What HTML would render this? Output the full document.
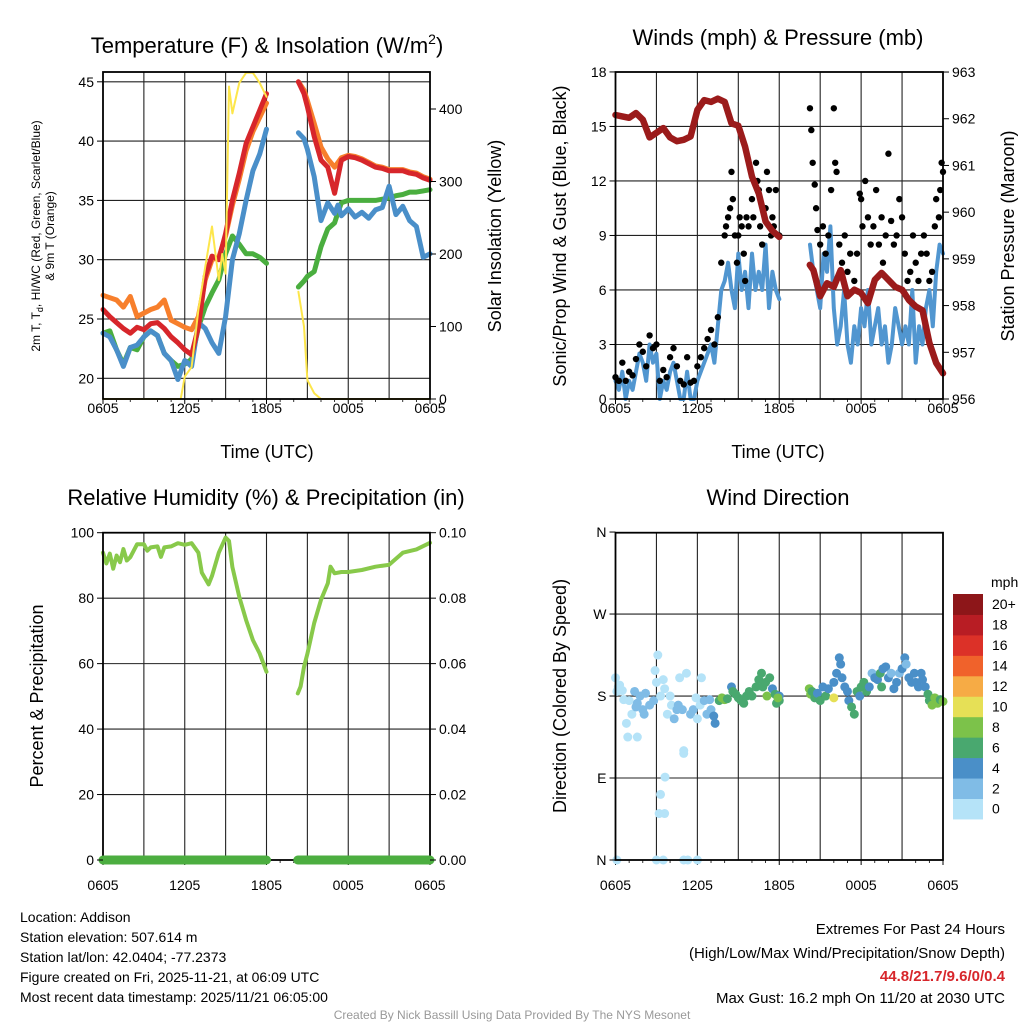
<!DOCTYPE html>
<html><head><meta charset="utf-8"><style>
html,body{margin:0;padding:0;background:#fff;}
svg{display:block;font-family:"Liberation Sans",sans-serif;}
</style></head><body>
<svg id="c" width="1024" height="1024" viewBox="0 0 1024 1024" xmlns="http://www.w3.org/2000/svg">
<rect width="1024" height="1024" fill="#fff"/>
<g id="g1"></g>
<g id="g2"></g>
<g id="g3"></g>
<g id="g4"></g>
<g font-size="22" text-anchor="middle" fill="#000">
<text x="267" y="53">Temperature (F) &amp; Insolation (W/m<tspan font-size="14" dy="-9">2</tspan><tspan dy="9">)</tspan></text>
<text x="778" y="45">Winds (mph) &amp; Pressure (mb)</text>
<text x="266" y="505">Relative Humidity (%) &amp; Precipitation (in)</text>
<text x="778" y="505">Wind Direction</text>
</g>
<g font-size="18" text-anchor="middle">
<text x="267" y="458">Time (UTC)</text>
<text x="778" y="458">Time (UTC)</text>
<text transform="translate(501,236) rotate(-90)">Solar Insolation (Yellow)</text>
<text transform="translate(566,236) rotate(-90)">Sonic/Prop Wind &amp; Gust (Blue, Black)</text>
<text transform="translate(1014,236) rotate(-90)">Station Pressure (Maroon)</text>
<text transform="translate(43,696) rotate(-90)">Percent &amp; Precipitation</text>
<text transform="translate(566,696) rotate(-90)">Direction (Colored By Speed)</text>
</g>
<g font-size="12" text-anchor="middle">
<text transform="translate(40,236) rotate(-90)">2m T, T<tspan font-size="9" dy="3">d</tspan><tspan dy="-3">, HI/WC (Red, Green, Scarlet/Blue)</tspan></text>
<text transform="translate(54,236) rotate(-90)">&amp; 9m T (Orange)</text>
</g>
<g font-size="14" fill="#000">
<text x="20" y="922">Location: Addison</text>
<text x="20" y="942">Station elevation: 507.614 m</text>
<text x="20" y="962">Station lat/lon: 42.0404; -77.2373</text>
<text x="20" y="982">Figure created on Fri, 2025-11-21, at 06:09 UTC</text>
<text x="20" y="1002">Most recent data timestamp: 2025/11/21 06:05:00</text>
</g>
<g font-size="15" text-anchor="end">
<text x="1005" y="934">Extremes For Past 24 Hours</text>
<text x="1005" y="958">(High/Low/Max Wind/Precipitation/Snow Depth)</text>
<text x="1005" y="981" fill="#d7262b" font-weight="bold">44.8/21.7/9.6/0/0.4</text>
<text x="1005" y="1003">Max Gust: 16.2 mph On 11/20 at 2030 UTC</text>
</g>
<text x="512" y="1019" font-size="12" fill="#999" text-anchor="middle">Created By Nick Bassill Using Data Provided By The NYS Mesonet</text>
</svg>
<script>
// ---- data ----
const xTickLabels = ["0605","1205","1805","0005","0605"];
const xTickHours = [0,6,12,18,24];
const tempTicks = [20,25,30,35,40,45];
const solarTicks = [0,100,200,300,400];
const windTicks = [0,3,6,9,12,15,18];
const presTicks = [956,957,958,959,960,961,962,963];
const rhTicks = [0,20,40,60,80,100];
const precipTicks = ["0.00","0.02","0.04","0.06","0.08","0.10"];
const dirTickLabels = ["N","E","S","W","N"];
const dirTickValues = [0,90,180,270,360];
const speedBinLabels = ["0","2","4","6","8","10","12","14","16","18","20+"];
const speedBinColors = ["#b5e3f8","#80bce6","#4a8fc8","#49a86f","#7cc24a","#e6e056","#f6ab45","#f0622b","#dc3128","#b81d24","#8d1619"];

const tSeg1 = [0,0.5,1,1.5,2,2.5,3,3.5,4,4.5,5,5.5,6,6.5,7,7.5,8,8.5,9,9.5,10,10.5,11,11.5,12];
const tSeg2 = [14.34,14.75,15,15.5,16,16.5,17,17.25,17.5,18,18.5,19,19.5,20,20.5,21,21.5,22,22.5,23,23.5,24];
const red1 = [25.8,25.2,24.7,24.2,23.8,24.3,24.1,24.6,24.7,24.2,23.5,23.0,22.4,22.0,24.3,28.6,30.3,30.0,32.2,35.0,37.3,39.8,41.2,42.6,44.0];
const orange1 = [27.0,26.8,26.6,26.0,26.9,25.2,25.5,25.8,26.0,26.6,24.9,24.6,24.3,24.1,25.2,28.3,30.0,30.2,32.0,34.6,36.8,39.2,40.8,42.0,43.2];
const blue1 = [23.8,23.5,22.4,21.0,22.6,22.8,23.5,24.0,23.6,22.1,21.5,19.9,21.5,21.0,24.7,24.2,23.0,22.1,25.2,30.0,32.2,35.0,37.5,38.9,41.0];
const green1 = [23.8,24.0,22.4,21.2,22.6,22.4,23.5,24.0,23.6,22.1,21.5,21.0,21.2,21.6,24.3,26.0,27.2,28.3,30.5,32.0,31.3,30.5,30.5,30.2,29.7];
const red2 = [45,44,42.9,40.4,38.4,37.8,35.6,37.0,38.4,38.7,38.6,38.4,38.1,37.8,37.7,37.5,37.5,37.5,37.3,37.2,36.9,36.7];
const orange2 = [45,44.3,43.4,41.5,39.5,38.5,37.8,38.2,38.6,38.8,38.7,38.5,38.2,37.9,37.8,37.6,37.6,37.6,37.4,37.3,37.0,36.8];
const blue2 = [40.7,40.2,39.3,37.0,33.3,34.8,33.9,34.6,33.7,34.3,33.6,34.0,33.5,34.2,34.4,36.2,33.8,34.5,33.3,32.8,30.2,30.5];
const green2 = [27.7,28.2,28.6,29.0,31.1,32.6,33.1,34.0,34.8,35.0,35.0,35.0,35.0,35.0,35.1,35.2,35.4,35.5,35.7,35.7,35.8,35.9];
const solarT1 = [0,5.7,6,6.5,7,7.5,8,8.5,8.75,9,9.25,9.5,10,10.5,11,11.5,12];
const solar1 = [0,0,31,44,123,182,238,164,200,173,431,394,436,450,450,436,417];
const solarT2 = [14.34,14.75,15,15.5,16,24];
const solar2 = [148,100,26,8,0,0];

const windT1 = [0,0.25,0.5,0.75,1,1.25,1.5,1.75,2,2.25,2.5,2.75,3,3.25,3.5,3.75,4,4.25,4.5,4.75,5,5.25,5.5,5.75,6,6.25,6.5,6.75,7,7.25,7.5,7.75,8,8.25,8.5,8.75,9,9.25,9.5,9.75,10,10.25,10.5,10.75,11,11.25,11.5,11.75,12];
const wind1 = [1,0.5,1.5,0,1,0.5,1.5,2.5,2,1,3,2,2.5,0,1,0.5,1.5,2,1,0,0,1.5,0,0,1,1.5,2,2.5,3,2,4,6,6.5,7.5,6,5,8,6,7,5,8,6,7,6,8.5,5,7,6,5.5];
const windT2 = [14.25,14.5,14.75,15,15.25,15.5,15.75,16,16.25,16.5,16.75,17,17.25,17.5,17.75,18,18.25,18.5,18.75,19,19.25,19.5,19.75,20,20.25,20.5,20.75,21,21.25,21.5,21.75,22,22.25,22.5,22.75,23,23.25,23.5,23.75,24];
const wind2 = [8.5,7,6,5,8,7,9.5,5,3,4,6,3,2,4,3,5,4,6,3,4,5,3,4,2,3,5,4,3,4,3,6,2,4,3,5,6,4,7,8.5,8];
const gustT = [0,0.25,0.5,0.75,1,1.25,1.5,1.75,2,2.25,2.5,2.75,3,3.25,3.5,3.75,4,4.25,4.5,4.75,5,5.25,5.5,5.75,6,6.25,6.5,6.75,7,7.25,7.5,7.75,
 8,8.1,8.25,8.4,8.5,8.6,8.75,8.9,9,9.1,9.25,9.4,9.5,9.6,9.75,10,10.1,10.3,10.4,10.5,10.6,10.75,11,11.1,11.25,11.4,11.5,11.6,11.75,12,
 14.25,14.35,14.45,14.6,14.7,14.8,15,15.2,15.4,15.6,15.8,16,16.1,16.2,16.4,16.6,16.8,17,17.2,17.5,17.7,17.9,18,18.1,18.3,18.5,18.7,18.9,19.1,19.3,19.5,19.6,19.8,20,20.2,20.4,20.6,20.8,21,21.2,21.4,21.6,21.8,22,22.2,22.4,22.6,22.8,23,23.2,23.4,23.5,23.7,23.8,23.9,24];
const gust = [1.2,1,2,1,1.5,1.3,2.2,3,2.6,1.8,3.5,2.8,3,1,1.6,1.2,2.3,2.8,1.8,1,0.8,2.3,0.9,1,1.8,2.3,2.8,3.3,3.8,3,4.5,7.5,
 9,9.5,10,10.5,12.5,11,9,7.5,9,10,9.5,8,6.5,10,9.5,11,10,13,12,11.5,9.5,8.5,10.5,12.5,11.5,9,10,9.5,11.5,9,
 16,14.8,13,11.8,10.5,9.3,8.5,9.5,8,9,11.5,16,13,12.5,8.5,7.5,9,7,8,6.5,8,11.3,11,9.5,12,10,8.5,9.5,11.5,8.5,10,7.5,9,13.5,9.8,8.5,9,11,10,8,6.5,7,9,7.5,6.5,8,9,8,6.5,7,9.5,11,10,11.5,13,12.5];
const presT1 = [0,0.5,1,1.5,2,2.5,3,3.5,4,4.5,5,5.5,6,6.5,7,7.5,8,8.5,9,9.5,10,10.5,11,11.5,12];
const pres1 = [962.08,962.05,962.02,962.12,961.98,961.6,961.7,961.8,961.6,961.52,961.55,961.62,962.19,962.4,962.36,962.43,962.36,961.9,961.85,961.4,960.76,960.4,959.8,959.6,959.47];
const presT2 = [14.24,14.5,15,15.5,16,16.5,17,17.5,18,18.5,19,19.5,20,20.5,21,21.5,22,22.5,23,23.5,24];
const pres2 = [958.87,958.76,958.2,958.48,958.4,958.76,958.2,958.34,958.27,958.05,958.55,958.7,958.55,958.4,958.34,958.12,957.98,957.9,957.2,956.77,956.55];

const rhT1 = [0,0.25,0.5,0.75,1,1.25,1.5,1.75,2,2.25,2.5,3,3.25,3.5,4,4.25,4.5,5,5.5,6,6.5,7,7.25,7.5,7.75,8,8.5,9,9.25,9.5,10,10.5,11,11.5,12];
const rh1 = [93.9,90.6,93.6,89,93,91,95,91.5,92.5,94.5,96.5,96.5,94.5,95.5,95.8,92.6,95.5,95.8,96.8,96.3,96.8,93.9,87.8,86,84.2,86.8,93.9,98.5,97.5,89.5,80.4,73.3,67.2,63.1,57.5];
const rhT2 = [14.3,14.5,14.75,15,15.5,16,16.5,16.7,17,17.5,18,19,20,21,22,23,24];
const rh2 = [50.9,53,59,63,72.4,79.5,84.5,89.6,87.6,88,88,88.6,89.6,90.2,93.9,94.9,96.9];
const precipT1 = [0,12];
const precip1 = [0,0];
const precipT2 = [14.3,24];
const precip2 = [0,0];

const dirT = [0,0.1,0.2,0.3,0.5,0.6,0.8,1,1.2,1.4,1.5,1.6,1.8,2,2.1,2.2,2.5,2.8,2.9,3,3.1,3.3,3.5,3.6,3.8,4,4.1,4.3,4.5,4.6,4.7,4.9,5,5.2,5.5,5.7,5.9,6,6.2,6.3,6.5,6.7,6.9,7,7.2,7.3,
 0.9,1.6,3.63,3.3,3.2,3.6,5,0.1,3,3.5,5,5.3,6,
 7.6,7.8,8,8.2,8.5,8.6,8.8,9,9.2,9.4,9.6,9.8,10,10.3,10.5,10.7,10.8,11,11.1,11.3,11.5,11.7,11.8,12,12,11.9,
 14.2,14.3,14.4,14.6,14.8,15,15.2,15.4,15.6,16,16,16.2,16.4,16.5,16.6,16.8,17,17.1,17.3,17.5,17.7,17.9,18,18.2,18.4,18.6,18.8,19,19.2,19.4,19.5,19.6,19.8,20,20.2,20.4,20.6,20.8,21,21.2,21.3,21.5,21.7,21.9,22,22.2,22.4,22.5,22.7,22.9,23,23.2,23.4,23.6,23.8,24];
const dirV = [200,185,190,192,186,176,150,175,160,185,168,172,180,165,160,183,170,175,208,195,225,180,198,188,160,180,170,155,165,170,200,165,120,205,160,165,178,155,170,200,175,160,176,165,158,150,
 135,135,91,72,51,51,117,0,0,0,0,0,0,
 175,178,176,177,190,185,182,178,175,172,180,185,180,190,198,205,190,195,180,200,188,182,172,175,180,178,
 188,182,185,178,183,175,190,180,188,178,195,205,222,215,200,190,185,175,168,160,185,180,190,195,185,190,205,200,198,205,190,210,212,200,205,188,195,205,210,222,215,200,195,205,195,190,205,198,190,182,175,170,178,172,176,174];
const dirSpd = [1,1,1,1.5,1,1,1,1,1,2.5,2.5,2.5,2.5,2.5,2.5,2.5,2.5,3,1,1,1,1,1,1,1,1,1,2.5,2.5,2.5,1,2.5,1,1,2.5,2.5,1,1,1,1,2.5,2.5,3,3.5,4.5,4.5,
 1,1,1,1,1,1,1,1,1,1,1,1,1,
 7,8.5,8.5,7,5,7,7,7,7,7,7,7,7,7,7,7,7,7,8.5,7,5,7,7,7,5,8.5,
 8.5,8.5,7,7,5,7,5,7,5,10.5,5,5,5,5,5,5,5,5,7,7,7,5,7,7,7,5,3,5,5,7,7,5,5,5,3,5,5,3,5,5,3,5,5,5,5,5,5,5,5,7,7,8.5,8.5,8.5,7,8.5];

// ---- helpers ----
const NS = "http://www.w3.org/2000/svg";
function mk(parent, tag, attrs){ const e=document.createElementNS(NS,tag); for(const k in attrs) e.setAttribute(k,attrs[k]); parent.appendChild(e); return e; }
function pathD(ts, vs, fx, fy){ return ts.map((t,i)=>(i?"L":"M")+fx(t).toFixed(1)+","+fy(vs[i]).toFixed(1)).join(""); }

// axis functions
const P1 = {x0:103, x1:430, y0:72, y1:399, lab:14};
const P2 = {x0:615.5, x1:943, y0:72, y1:399, lab:14};
const P3 = {x0:103, x1:430, y0:532.7, y1:860, lab:30};
const P4 = {x0:615.5, x1:943, y0:532.7, y1:860, lab:30};
const hx = (P)=> (h)=> P.x0 + h*(P.x1-P.x0)/24;
const x1f=hx(P1), x2f=hx(P2), x3f=hx(P3), x4f=hx(P4);
const yT = (T)=> 378.3 - (T-20)*11.86;
const yS = (W)=> 399 - W*0.725;
const yW = (w)=> 399 - w*18.17;
const yP = (p)=> 399 - (p-956)*46.71;
const yR = (r)=> 860 - r*3.273;
const yPr = (v)=> 860 - v*3273;
const yD = (d)=> 860 - d*0.911;

function frame(g, P, fx, hLines, name){
  const gg = mk(g,"g",{});
  
  
  for(let h=3; h<24; h+=3){ mk(gg,"line",{x1:fx(h),x2:fx(h),y1:P.y0,y2:P.y1,stroke:"#222","stroke-width":1.1}); }
  hLines.forEach(y=> mk(gg,"line",{x1:P.x0,x2:P.x1,y1:y,y2:y,stroke:"#222","stroke-width":1.1}));
  xTickHours.forEach((h,i)=>{
    mk(gg,"line",{x1:fx(h),x2:fx(h),y1:P.y1,y2:P.y1+5,stroke:"#000","stroke-width":1});
    const t = mk(g,"text",{x:fx(h),y:P.y1+P.lab,"font-size":14,"text-anchor":"middle"});
    t.textContent = xTickLabels[i];
    
    
  });
  for(let h=1; h<24; h++){ if(h%3) mk(gg,"line",{x1:fx(h),x2:fx(h),y1:P.y1,y2:P.y1+3,stroke:"#000","stroke-width":0.8}); }
}
function box(g, P, name){
  const r = mk(g,"rect",{x:P.x0,y:P.y0,width:P.x1-P.x0,height:P.y1-P.y0,fill:"none",stroke:"#000","stroke-width":1.8});
  
  
}
function yTicks(g, vals, labels, fy, x, side){
  vals.forEach((v,i)=>{
    const y=fy(v);
    mk(g,"line",{x1:x,x2:x+(side<0?-6:6),y1:y,y2:y,stroke:"#000","stroke-width":1});
    const t = mk(g,"text",{x:x+(side<0?-9:9),y:y+5,"font-size":14,"text-anchor":side<0?"end":"start"});
    t.textContent = labels[i];
    
    
  });
}
function line(g, ts, vs, fx, fy, color, w, name){
  const p = mk(g,"path",{d:pathD(ts,vs,fx,fy),fill:"none",stroke:color,"stroke-width":w,"stroke-linejoin":"round","stroke-linecap":"round"});
  
  
}

// ---- panel 1 ----
const g1 = document.getElementById("g1");
frame(g1, P1, x1f, tempTicks.map(yT), "temperature");
line(g1, tSeg1, orange1, x1f, yT, "#f77f2c", 5, "series-9m-temp-seg1");
line(g1, tSeg2, orange2, x1f, yT, "#f77f2c", 5, "series-9m-temp-seg2");
line(g1, tSeg1, green1, x1f, yT, "#4aae3f", 5, "series-hi-wc-seg1");
line(g1, tSeg2, green2, x1f, yT, "#4aae3f", 5, "series-hi-wc-seg2");
line(g1, tSeg1, blue1, x1f, yT, "#4a8fc9", 5, "series-dewpoint-seg1");
line(g1, tSeg2, blue2, x1f, yT, "#4a8fc9", 5, "series-dewpoint-seg2");
line(g1, tSeg1, red1, x1f, yT, "#d7262b", 5, "series-2m-temp-seg1");
line(g1, tSeg2, red2, x1f, yT, "#d7262b", 5, "series-2m-temp-seg2");
line(g1, solarT1, solar1, x1f, yS, "#fde64b", 2, "series-solar-seg1");
line(g1, solarT2, solar2, x1f, yS, "#fde64b", 2, "series-solar-seg2");
box(g1, P1, "temperature");
yTicks(g1, tempTicks, tempTicks.map(String), yT, P1.x0, -1);
yTicks(g1, solarTicks, solarTicks.map(String), yS, P1.x1, 1);

// ---- panel 2 ----
const g2 = document.getElementById("g2");
frame(g2, P2, x2f, windTicks.slice(1,6).map(yW), "wind");
line(g2, windT1, wind1, x2f, yW, "#5196d0", 4, "series-wind-seg1");
line(g2, windT2, wind2, x2f, yW, "#5196d0", 4, "series-wind-seg2");
gust.forEach((v,i)=>{
  const c = mk(g2,"circle",{cx:x2f(gustT[i]),cy:yW(v),r:3.2,fill:"#000"});
  
  
});
line(g2, presT1, pres1, x2f, yP, "#9b1b1b", 6.5, "series-pressure-seg1");
line(g2, presT2, pres2, x2f, yP, "#9b1b1b", 6.5, "series-pressure-seg2");
box(g2, P2, "wind");
yTicks(g2, windTicks, windTicks.map(String), yW, P2.x0, -1);
yTicks(g2, presTicks, presTicks.map(String), yP, P2.x1, 1);

// ---- panel 3 ----
const g3 = document.getElementById("g3");
frame(g3, P3, x3f, [20,40,60,80].map(yR), "humidity");
line(g3, rhT1, rh1, x3f, yR, "#88c94a", 4, "series-rh-seg1");
line(g3, rhT2, rh2, x3f, yR, "#88c94a", 4, "series-rh-seg2");
box(g3, P3, "humidity");
line(g3, precipT1, precip1, x3f, yPr, "#4cae40", 9, "series-precip-seg1");
line(g3, precipT2, precip2, x3f, yPr, "#4cae40", 9, "series-precip-seg2");
yTicks(g3, rhTicks, rhTicks.map(String), yR, P3.x0, -1);
yTicks(g3, precipTicks.map(Number), precipTicks, yPr, P3.x1, 1);

// ---- panel 4 ----
const g4 = document.getElementById("g4");
frame(g4, P4, x4f, [90,180,270].map(yD), "direction");
dirV.forEach((d,i)=>{
  const bin = Math.min(10, Math.floor(dirSpd[i]/2));
  const c = mk(g4,"circle",{cx:x4f(dirT[i]),cy:yD(d),r:4.5,fill:speedBinColors[bin]});
  
  
});
box(g4, P4, "direction");
yTicks(g4, dirTickValues, dirTickLabels, yD, P4.x0, -1);
const cb = mk(g4,"g",{});


const cbH = 20.45, cbTop = 594;
speedBinColors.forEach((col,i)=>{
  const y = cbTop + (10-i)*cbH;
  mk(cb,"rect",{x:953,y:y,width:30,height:cbH+0.5,fill:col});
  const t = mk(cb,"text",{x:992,y:y+cbH/2+5,"font-size":14});
  t.textContent = speedBinLabels[i];
  
  
});
const mt = mk(cb,"text",{x:991,y:587,"font-size":14});
mt.textContent = "mph";


</script>
</body></html>
